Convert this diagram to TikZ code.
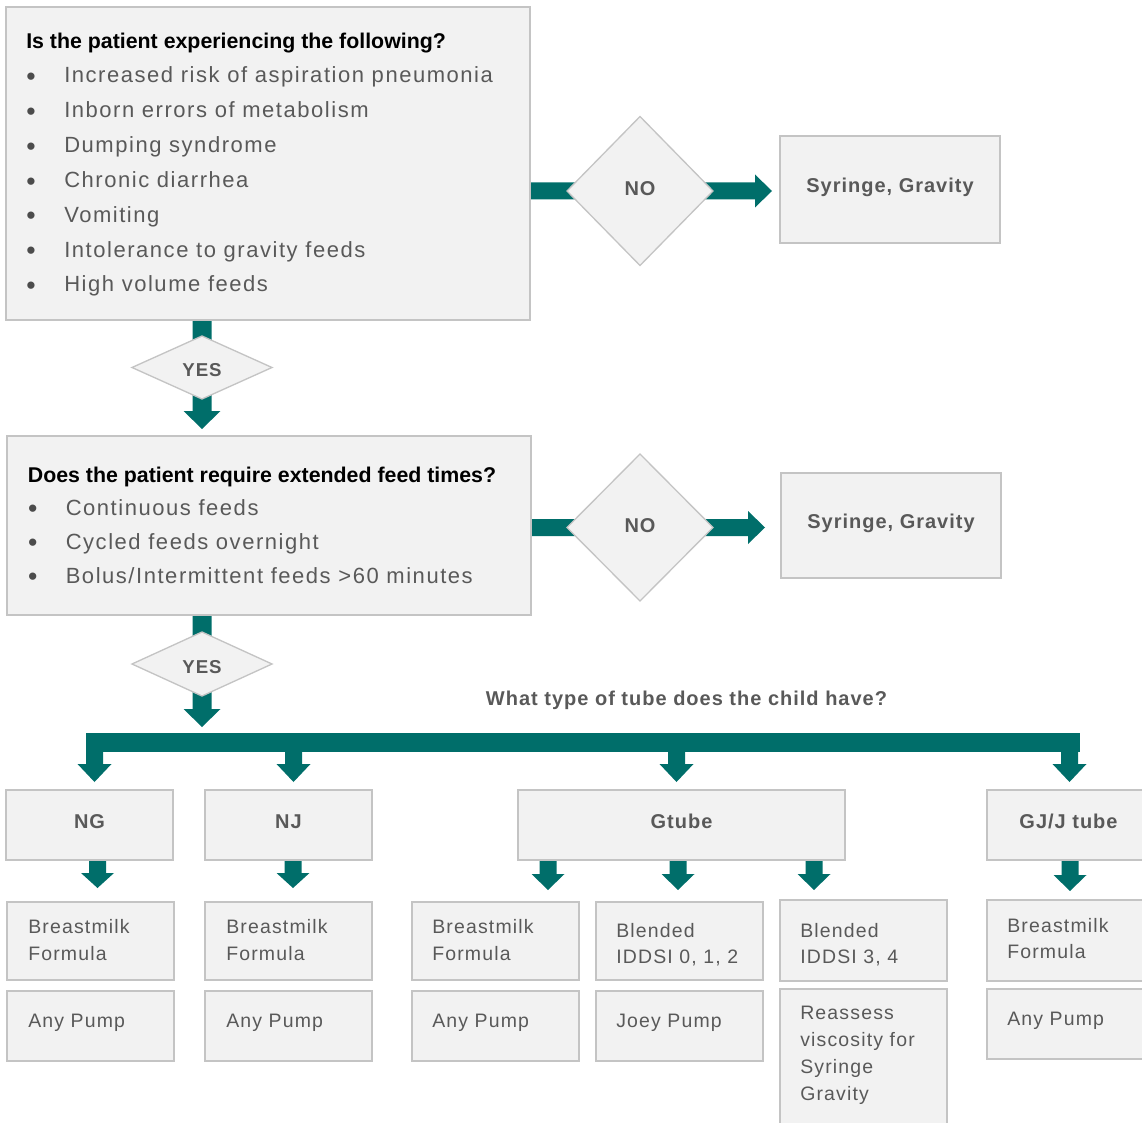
\documentclass[tikz,border=0pt]{standalone}
\usepackage{fontspec}
\setmainfont{Liberation Sans}
\newfontfamily\bodyfont{Liberation Sans}[LetterSpace=6]
\newfontfamily\listfont{Liberation Sans}[LetterSpace=7]
\newfontfamily\labelfont{Liberation Sans}[LetterSpace=5]
\usetikzlibrary{shapes.geometric,calc,backgrounds}

\definecolor{tealx}{RGB}{0,110,106}
\definecolor{boxfill}{RGB}{242,242,242}
\definecolor{boxline}{RGB}{196,196,196}
\definecolor{txtgrey}{RGB}{89,89,89}

% block arrow pointing down: start, tip, shaft half width, head half width, head length
\newcommand{\tealV}[5]{%
  \fill[tealx] ($(#1)+(-#3,0)$) -- ($(#1)+(#3,0)$) -- ($(#2)+(#3,-#5)$)
    -- ($(#2)+(#4,-#5)$) -- (#2) -- ($(#2)+(-#4,-#5)$) -- ($(#2)+(-#3,-#5)$) -- cycle;}
% block arrow pointing right
\newcommand{\tealH}[5]{%
  \fill[tealx] ($(#1)+(0,-#3)$) -- ($(#1)+(0,#3)$) -- ($(#2)+(-#5,#3)$)
    -- ($(#2)+(-#5,#4)$) -- (#2) -- ($(#2)+(-#5,-#4)$) -- ($(#2)+(-#5,-#3)$) -- cycle;}

\begin{document}
\begin{tikzpicture}[x=0.75pt,y=-0.75pt,
  box/.style={draw=boxline, fill=boxfill, line width=1.1pt, inner sep=0pt, outer sep=0pt},
  sized/.style 2 args={minimum width=#1*0.75pt, minimum height=#2*0.75pt},
  lbl/.style={font=\labelfont\bfseries\fontsize{15}{18}\selectfont, text=txtgrey,
    text height=10.7pt, text depth=6pt},
  dec/.style={diamond, draw=boxline, fill=boxfill, line width=1pt, inner sep=0pt, outer sep=0pt,
    font=\labelfont\bfseries\fontsize{15}{18}\selectfont, text=txtgrey,
    text height=10.7pt, text depth=3.2pt},
  yesdec/.style={dec, font=\labelfont\bfseries\fontsize{14}{17}\selectfont,
    text height=13.5pt, text depth=0pt},
  head/.style={anchor=base west, inner sep=0pt, font=\bfseries\fontsize{16}{19}\selectfont, text=black},
  item/.style={anchor=base west, inner sep=0pt, font=\listfont\fontsize{16.5}{19}\selectfont, text=txtgrey},
  bul/.style={anchor=base, inner sep=0pt, yshift=-2pt, font=\fontsize{20}{22}\selectfont, text=txtgrey!85!black},
  small/.style={anchor=base west, inner sep=0pt, font=\bodyfont\fontsize{14.6}{17}\selectfont, text=txtgrey},
  ask/.style={anchor=base, inner sep=0pt, font=\labelfont\bfseries\fontsize{15}{18}\selectfont, text=txtgrey},
]
\useasboundingbox (0,0) rectangle (1142,1123);
\clip (0,0) rectangle (1142,1123);

% ---- first question ----
\node[box, sized={524}{313}] (q1) at (268,163.5) {};
\node[head] (q1h) at (26,49) {Is the patient experiencing the following?};
\foreach \t [count=\i] in {Increased risk of aspiration pneumonia, Inborn errors of metabolism,
    Dumping syndrome, Chronic diarrhea, Vomiting, Intolerance to gravity feeds, High volume feeds} {
  \node[bul]  (q1b\i) at (31,{83+34.83*(\i-1)}) {\textbullet};
  \node[item] (q1i\i) at (64,{83+34.83*(\i-1)}) {\t};
}
\node[dec, sized={146}{149}] (no1) at (640,191) {NO};
\node[box, sized={220}{107}, lbl] (syr1) at (890,189.5) {Syringe, Gravity};
\node[yesdec, sized={140}{63}] (yes1) at (202,367.5) {YES};

% ---- second question ----
\node[box, sized={524}{179}] (q2) at (269,525.5) {};
\node[head] (q2h) at (27.6,482) {Does the patient require extended feed times?};
\foreach \t [count=\i] in {Continuous feeds, Cycled feeds overnight, Bolus/Intermittent feeds >60 minutes} {
  \node[bul]  (q2b\i) at (32.7,{515+34*(\i-1)}) {\textbullet};
  \node[item] (q2i\i) at (65.5,{515+34*(\i-1)}) {\t};
}
\node[dec, sized={146}{147}] (no2) at (640,527.5) {NO};
\node[box, sized={220}{105}, lbl] (syr2) at (891,525.5) {Syringe, Gravity};
\node[yesdec, sized={140}{64}] (yes2) at (202,664) {YES};

\node[ask] (tubeq) at (686.5,705) {What type of tube does the child have?};

% ---- tube types ----
\node[box, sized={167}{70}, lbl] (ng) at (89.5,825) {NG};
\node[box, sized={167}{70}, lbl] (nj) at (288.5,825) {NJ};
\node[box, sized={327}{70}, lbl] (gt) at (681.5,825) {Gtube};
\node[box, sized={163}{70}, lbl] (gj) at (1068.5,825) {GJ/J tube};

% ---- feeds and pumps ----
\node[box, sized={167}{78}] (ngA) at (90.5,941) {};
\node[box, sized={167}{70}] (ngB) at (90.5,1026) {};
\node[box, sized={167}{78}] (njA) at (288.5,941) {};
\node[box, sized={167}{70}] (njB) at (288.5,1026) {};
\node[box, sized={167}{78}] (g1A) at (495.5,941) {};
\node[box, sized={167}{70}] (g1B) at (495.5,1026) {};
\node[box, sized={167}{78}] (g2A) at (679.5,941) {};
\node[box, sized={167}{70}] (g2B) at (679.5,1026) {};
\node[box, sized={167}{81}] (g3A) at (863.5,940.5) {};
\node[box, sized={167}{146}] (g3B) at (863.5,1062) {};
\node[box, sized={163}{81}] (gjA) at (1068.5,940.5) {};
\node[box, sized={163}{70}] (gjB) at (1068.5,1024) {};

\node[small] (ngA1) at (28,933) {Breastmilk};
\node[small] (ngA2) at (28,960) {Formula};
\node[small] (ngB1) at (28,1027) {Any Pump};
\node[small] (njA1) at (226,933) {Breastmilk};
\node[small] (njA2) at (226,960) {Formula};
\node[small] (njB1) at (226,1027) {Any Pump};
\node[small] (g1A1) at (432,933) {Breastmilk};
\node[small] (g1A2) at (432,960) {Formula};
\node[small] (g1B1) at (432,1027) {Any Pump};
\node[small] (g2A1) at (616,937) {Blended};
\node[small] (g2A2) at (616,963) {IDDSI 0, 1, 2};
\node[small] (g2B1) at (616,1027) {Joey Pump};
\node[small] (g3A1) at (800,937) {Blended};
\node[small] (g3A2) at (800,963) {IDDSI 3, 4};
\node[small] (g3B1) at (800,1019) {Reassess};
\node[small] (g3B2) at (800,1046) {viscosity for};
\node[small] (g3B3) at (800,1073) {Syringe};
\node[small] (g3B4) at (800,1100) {Gravity};
\node[small] (gjA1) at (1007,932) {Breastmilk};
\node[small] (gjA2) at (1007,958) {Formula};
\node[small] (gjB1) at (1007,1025) {Any Pump};

% ---- arrow end points ----
\coordinate (no1s) at (q1.east |- no1.center);
\coordinate (no1t) at (772,191);
\coordinate (no2s) at (q2.east |- no2.center);
\coordinate (no2t) at (765,527.5);
\coordinate (yes1t) at (202,429);
\coordinate (yes1s) at (q1.south -| yes1t);
\coordinate (yes2t) at (202,727);
\coordinate (yes2s) at (q2.south -| yes2t);
\coordinate (barL) at (86,733);
\coordinate (barR) at (1080,752);
\coordinate (ngt) at (94.5,782);
\coordinate (njt) at (293.5,782);
\coordinate (gtt) at (676.5,782);
\coordinate (gjt) at (1069.5,782);
\coordinate (ngbar) at (ngt |- 0,742.5);
\coordinate (njbar) at (njt |- 0,742.5);
\coordinate (gtbar) at (gtt |- 0,742.5);
\coordinate (gjbar) at (gjt |- 0,742.5);
\coordinate (ngo) at (97.5,888);
\coordinate (njo) at (293,888);
\coordinate (g1o) at (548,890);
\coordinate (g2o) at (678,890);
\coordinate (g3o) at (814,890);
\coordinate (gjo) at (1070,891);
\coordinate (ngos) at (ng.south -| ngo);
\coordinate (njos) at (nj.south -| njo);
\coordinate (g1os) at (gt.south -| g1o);
\coordinate (g2os) at (gt.south -| g2o);
\coordinate (g3os) at (gt.south -| g3o);
\coordinate (gjos) at (gj.south -| gjo);

% ---- connectors ----
\begin{scope}[on background layer]
  \tealH{no1s}{no1t}{8.5}{16.5}{17}
  \tealH{no2s}{no2t}{8.5}{16.5}{17}
  \tealV{yes1s}{yes1t}{9.5}{18.5}{18}
  \tealV{yes2s}{yes2t}{9.5}{18.5}{18}
  \fill[tealx] (barL) rectangle (barR);
  \tealV{ngbar}{ngt}{8.5}{17}{18}
  \tealV{njbar}{njt}{8.5}{17}{18}
  \tealV{gtbar}{gtt}{8.5}{17}{18}
  \tealV{gjbar}{gjt}{8.5}{17}{18}
  \tealV{ngos}{ngo}{8.5}{16.5}{15}
  \tealV{njos}{njo}{8.5}{16.5}{15}
  \tealV{g1os}{g1o}{8.5}{16.5}{16}
  \tealV{g2os}{g2o}{8.5}{16.5}{16}
  \tealV{g3os}{g3o}{8.5}{16.5}{16}
  \tealV{gjos}{gjo}{8.5}{16.5}{16}
\end{scope}
\end{tikzpicture}
\end{document}
